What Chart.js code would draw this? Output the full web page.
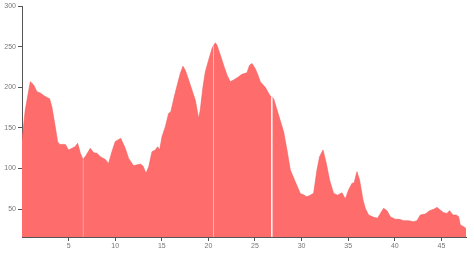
<!DOCTYPE html>
<html>
<head>
<meta charset="utf-8">
<script src="https://cdn.jsdelivr.net/npm/chart.js@4/dist/chart.umd.min.js"></script>
<style>
  html, body { margin: 0; padding: 0; background: #fff; }
  #wrap { width: 474px; height: 254px; }
</style>
</head>
<body>
<div id="wrap"><canvas id="myChart" width="474" height="254"></canvas></div>
<script>
// x positions (null y = thin white gap in the area)
const xs = [
  0, 0.35, 0.89, 1.25, 1.6, 1.96, 2.32, 2.68, 2.96, 3.2, 3.57, 3.82, 4.04, 4.65,
  5.0, 5.37, 5.72, 5.97, 6.26, 6.54, 6.55, 6.56, 6.9, 7.33, 7.69, 8.05, 8.4, 8.94, 9.29, 9.65,
  10.0, 10.37, 10.6, 11.08, 11.44, 11.97, 12.7, 12.98, 13.3, 13.6, 13.95, 14.3, 14.55, 14.77,
  15.02, 15.38, 15.73, 15.97, 16.34, 16.7, 16.98, 17.27, 17.52, 17.88, 18.24, 18.6, 18.95,
  19.13, 19.42, 19.67, 20.02, 20.39, 20.57, 20.58, 20.59, 20.74, 20.92, 21.28, 21.63, 22.0,
  22.35, 22.7, 23.13, 23.6, 24.14, 24.42, 24.68, 25.03, 25.28, 25.57, 26.1, 26.57, 26.75,
  26.8, 26.86, 27.0, 27.53, 28.07, 28.43, 28.79, 29.32, 29.86, 30.2, 30.56, 30.93, 31.29,
  31.65, 31.93, 32.3, 32.65, 33.0, 33.43, 33.86, 34.33, 34.69, 35.04, 35.4, 35.64, 35.94,
  36.22, 36.59, 36.83, 37.19, 37.73, 38.15, 38.45, 38.8, 39.16, 39.52, 40.05, 40.5, 40.94,
  41.47, 42.02, 42.38, 42.74, 43.27, 43.74, 44.16, 44.53, 44.88, 45.24, 45.6, 45.88, 46.24,
  46.6, 46.85, 47.03, 47.39, 47.64
];

const values = [
  135, 172, 207, 203, 194.5, 193, 190, 187.5, 186, 176, 151, 133, 129.6, 129.6,
  122.7, 124.8, 127, 131, 118.6, 111.2, null, 111, 116.5, 124.8, 119.3, 118.6, 114.5, 111, 106.2, 120.6,
  133, 135.8, 137, 124.8, 112.4, 103.4, 105.4, 103, 94, 102, 120.6, 122.7, 126.8, 122.7,
  139, 151.4, 167.8, 170, 188.4, 204.8, 217, 226, 221, 209, 196.5, 184, 161.7,
  172, 200.6, 219, 233.5, 247.9, 252, null, 252.3, 254.8, 252, 239.7, 227.3, 215,
  206.8, 209, 212, 216, 218, 227.3, 229.4, 223, 216, 206.8, 200, 190.4, 188,
  null, 187.5, 186, 165.8, 145.2, 122.7, 98, 83.6, 69, 67.5, 65, 67, 69.3,
  98, 114.5, 122.7, 106.2, 85.7, 69.3, 67, 70, 62.3, 73.4, 81.6, 82.5, 96,
  85.7, 61.1, 50.9, 42.6, 39.8, 38.6, 44.4, 50.9, 48, 40.5, 37.3, 37.3, 35.6,
  35.6, 34.4, 35.6, 42.6, 43.8, 48, 49.6, 52, 48.7, 45.5, 44.6, 48, 42.6,
  42.6, 40.5, 30.3, 28.2, 26
];

const xTicks = [5, 10, 15, 20, 25, 30, 35, 40, 45];
const yTicks = [50, 100, 150, 200, 250, 300];

const points = xs.map((x, i) => ({ x: x, y: values[i] }));

const tickFont = { family: 'Liberation Sans, Arial, sans-serif', size: 7 };
const axisColor = '#555';

const ctx = document.getElementById('myChart').getContext('2d');

new Chart(ctx, {
  type: 'line',
  data: {
    datasets: [{
      data: points,
      backgroundColor: 'rgb(255, 108, 108)',
      borderColor: 'rgb(240, 96, 96)',
      borderWidth: 0.6,
      pointRadius: 0,
      tension: 0,
      spanGaps: false,
      fill: 'start'
    }]
  },
  options: {
    responsive: false,
    animation: false,
    layout: { padding: { left: 0, right: 8, top: 6, bottom: 0 } },
    plugins: { legend: { display: false }, tooltip: { enabled: false } },
    scales: {
      x: {
        type: 'linear',
        min: 0,
        max: 47.64,
        afterFit: (scale) => { scale.height = 17; },
        afterBuildTicks: (scale) => { scale.ticks = xTicks.map(v => ({ value: v })); },
        border: { display: true, color: axisColor, width: 1 },
        grid: { drawOnChartArea: false, drawTicks: true, tickLength: 4, color: axisColor },
        ticks: { font: tickFont, color: '#777', padding: 1, maxRotation: 0 }
      },
      y: {
        min: 15.5,
        max: 300,
        afterFit: (scale) => { scale.width = 22; },
        afterBuildTicks: (scale) => { scale.ticks = yTicks.map(v => ({ value: v })); },
        border: { display: true, color: axisColor, width: 1 },
        grid: { drawOnChartArea: false, drawTicks: true, tickLength: 4, color: axisColor },
        ticks: { font: tickFont, color: '#777', padding: 2 }
      }
    }
  }
});
</script>
</body>
</html>
